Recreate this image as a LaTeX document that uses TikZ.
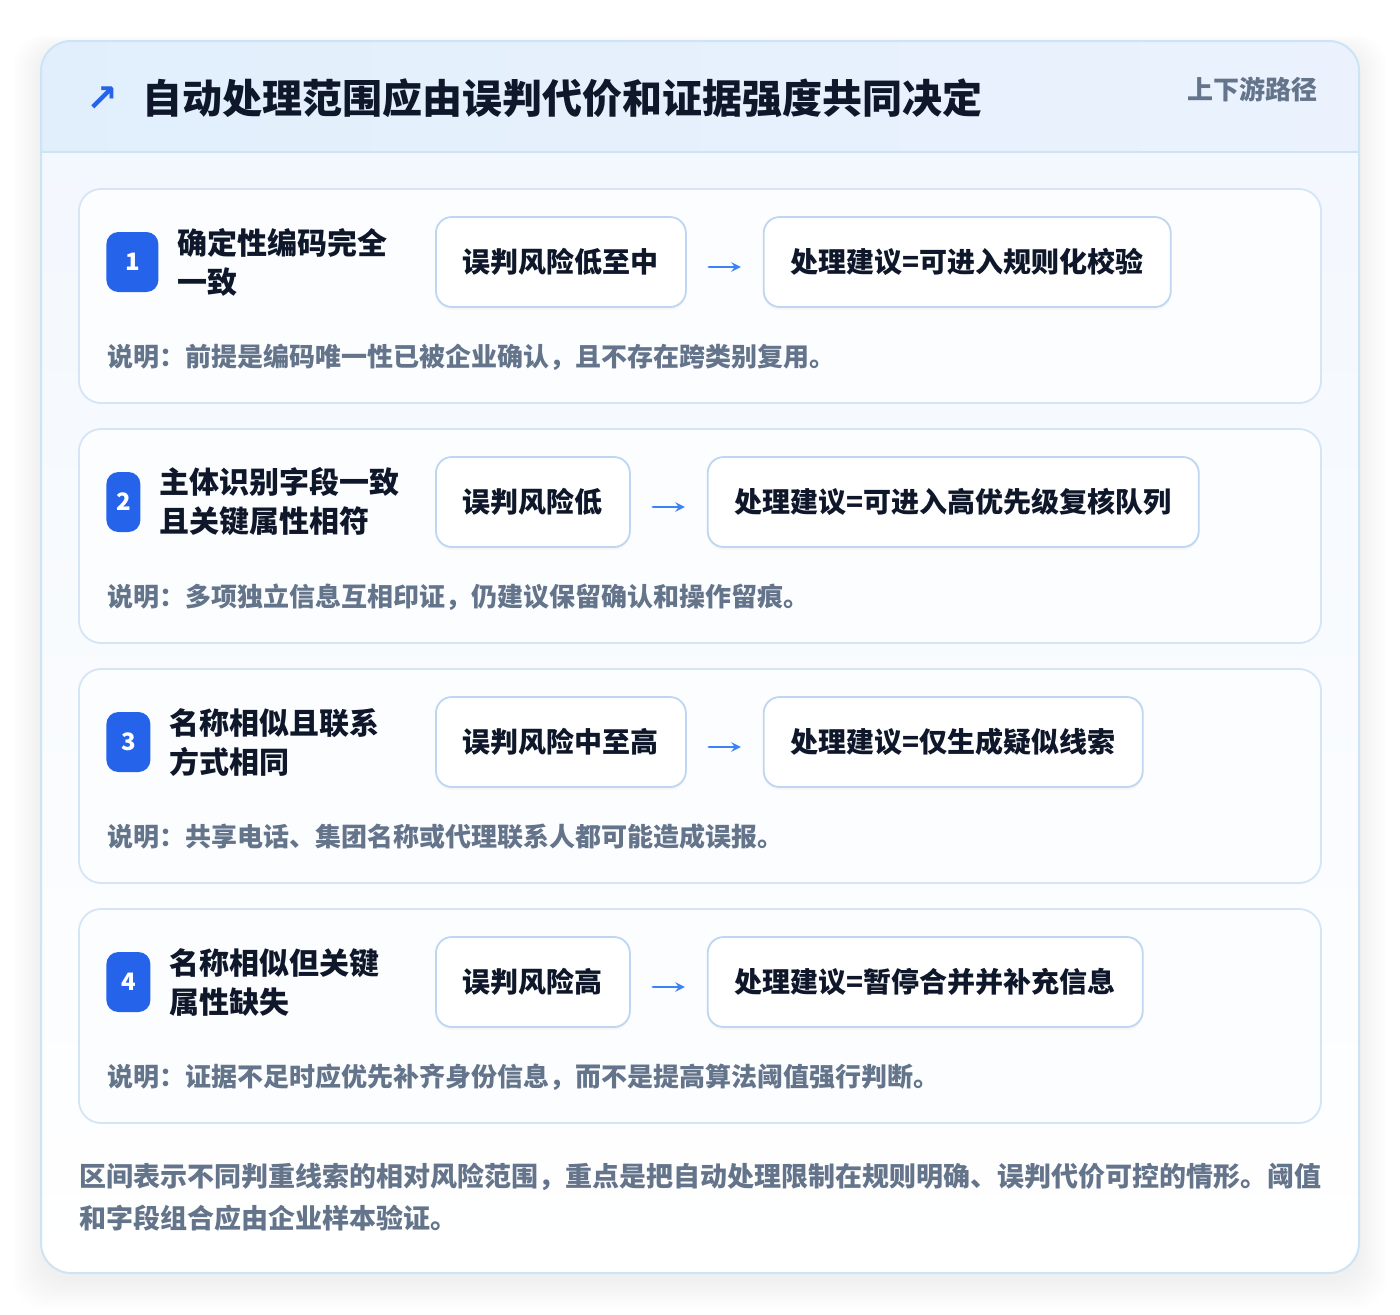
\documentclass[tikz,border=0pt]{standalone}
\usepackage{fontspec}
\setmainfont{Noto Sans CJK SC}
\newfontfamily\symfont{DejaVu Sans}
\usetikzlibrary{positioning,shadows}
\definecolor{frameblue}{HTML}{CDE4F7}
\definecolor{headleft}{HTML}{E1EFFC}
\definecolor{headright}{HTML}{EBF2FD}
\definecolor{bodytop}{HTML}{F2F7FE}
\definecolor{cardline}{HTML}{D5E5F5}
\definecolor{cardfill}{HTML}{FBFDFF}
\definecolor{boxline}{HTML}{BFD6F2}
\definecolor{badgeblue}{HTML}{2563EB}
\definecolor{arrowblue}{HTML}{3B82F6}
\definecolor{titleink}{HTML}{0F172A}
\definecolor{noteink}{HTML}{64748B}
\begin{document}
\begin{tikzpicture}[x=0.5pt, y=-0.5pt, font=\bfseries, line join=round, line cap=round, >=stealth,
	cardbox/.style={draw=cardline, fill=cardfill, line width=0.9pt, rounded corners=11pt},
	badge/.style={fill=badgeblue, text=white, rounded corners=6pt, minimum height=30pt, inner sep=0pt, font=\bfseries\fontsize{12pt}{14pt}\selectfont},
	steplabel/.style={align=left, text=titleink, inner sep=0pt, font=\bfseries\fontsize{15pt}{19.5pt}\selectfont},
	riskbox/.style={draw=boxline, fill=white, line width=0.9pt, rounded corners=8pt, minimum height=45pt, inner xsep=13.5pt, text=titleink, font=\bfseries\fontsize{14pt}{16pt}\selectfont, drop shadow={opacity=0.05, shadow xshift=0pt, shadow yshift=-1.5pt}},
	notetext/.style={text=noteink, inner sep=0pt, font=\bfseries\fontsize{13pt}{15pt}\selectfont},
	flow/.style={->, draw=arrowblue, line width=1.1pt, shorten <=11pt, shorten >=11pt}]
	\useasboundingbox (0,0) rectangle (1400,1314);
	\fill[white] (0,0) rectangle (1400,1314);
	% soft shadow under the panel
	\foreach \k in {0,...,14}{
		\fill[black, opacity=0.005, rounded corners=15pt] (41-2*\k,41-\k+8) rectangle (1359+2*\k,1273+2*\k+8);
	}
	\fill[top color=bodytop, bottom color=white, rounded corners=15pt] (41,41) rectangle (1359,1273);
	\begin{scope}
		\clip[rounded corners=15pt] (41,41) rectangle (1359,1273);
		\fill[left color=headleft, right color=headright] (41,41) rectangle (1359,152);
	\end{scope}
	\draw[frameblue, line width=0.7pt] (41,152)--(1359,152);
	\draw[frameblue, line width=1pt, rounded corners=15pt] (41,41) rectangle (1359,1273);
	% header
	\node[text=badgeblue, inner sep=0pt, font=\symfont\bfseries\fontsize{19pt}{19pt}\selectfont] (icon) at (102,99) {↗};
	\node[anchor=west, text=titleink, inner sep=0pt, font=\bfseries\fontsize{20pt}{22pt}\selectfont] (title) at (142,98) {自动处理范围应由误判代价和证据强度共同决定};
	\node[anchor=east, text=noteink, inner sep=0pt, font=\bfseries\fontsize{13pt}{15pt}\selectfont] (route) at (1318,89) {上下游路径};
	% steps
	\foreach \i/\bw/\lab/\risk/\act/\note in {
		1/26pt/确定性编码完全\\一致/误判风险低至中/处理建议=可进入规则化校验/前提是编码唯一性已被企业确认，且不存在跨类别复用。,
		2/17pt/主体识别字段一致\\且关键属性相符/误判风险低/处理建议=可进入高优先级复核队列/多项独立信息互相印证，仍建议保留确认和操作留痕。,
		3/22pt/名称相似且联系\\方式相同/误判风险中至高/处理建议=仅生成疑似线索/共享电话、集团名称或代理联系人都可能造成误报。,
		4/22pt/名称相似但关键\\属性缺失/误判风险高/处理建议=暂停合并并补充信息/证据不足时应优先补齐身份信息，而不是提高算法阈值强行判断。}{
		\pgfmathsetmacro{\yt}{189+(\i-1)*240}
		\pgfmathsetmacro{\yc}{\yt+73}
		\draw[cardbox] (79,\yt) rectangle (1321,\yt+214);
		\node[badge, anchor=west, minimum width=\bw] (num\i) at (106,\yc) {\i};
		\node[steplabel, right=9pt of num\i] (lab\i) {\lab};
		\node[riskbox, anchor=west] (risk\i) at (435,\yc) {\risk};
		\node[riskbox, right=38pt of risk\i] (act\i) {\act};
		\draw[flow] ([yshift=-2.5pt]risk\i.east)--([yshift=-2.5pt]act\i.west);
		\node[notetext, anchor=west] (note\i) at (107,\yt+168) {说明：\note};
	}
	% footer
	\node[anchor=base west, align=left, text=noteink, inner sep=0pt, font=\bfseries\fontsize{13.5pt}{21pt}\selectfont] (summary) at (79,1228) {区间表示不同判重线索的相对风险范围，重点是把自动处理限制在规则明确、误判代价可控的情形。阈值\\和字段组合应由企业样本验证。};
\end{tikzpicture}
\end{document}
